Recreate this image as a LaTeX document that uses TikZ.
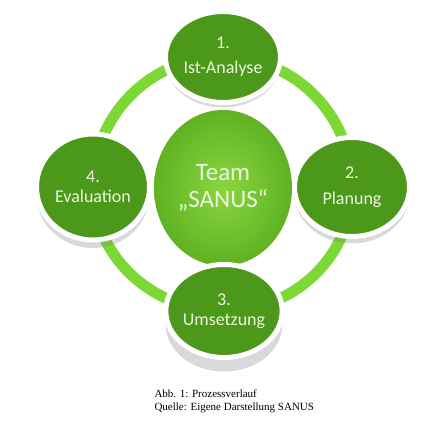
\documentclass[tikz,border=0pt]{standalone}
\usepackage{fontspec}
\setmainfont{Liberation Serif}
\newfontfamily\smartfont{Carlito}
\usetikzlibrary{shapes.geometric, shadows, backgrounds}
\definecolor{stagegreen}{RGB}{76,152,26}
\definecolor{ringgreen}{RGB}{124,216,52}
\definecolor{teamlight}{RGB}{138,214,66}
\definecolor{teamdark}{RGB}{96,178,34}
\definecolor{labelwhite}{RGB}{236,246,222}
\tikzset{
    stage/.style={ellipse, fill=stagegreen, draw=white, line width=5pt, text=labelwhite, align=center, inner sep=0pt,
        drop shadow={opacity=0.3, shadow xshift=0pt, shadow yshift=-#1}},
    ring/.style={ringgreen, line width=11pt},
}

\begin{document}
\begin{tikzpicture}[x=1pt,y=1pt]
                \useasboundingbox (0,0) rectangle (447,430);
                \node[ellipse, minimum width=138pt, minimum height=156pt, inner color=teamlight, outer color=teamdark, text=labelwhite,
                    font=\smartfont\fontsize{25}{27}\selectfont, align=center] (team) at (223,242) {Team\\„SANUS“};
                \node[stage=5pt, minimum width=115pt, minimum height=91pt, font=\smartfont\fontsize{18}{25}\selectfont] (ana) at (223,373) {1.\\Ist-Analyse};
                \node[stage=7pt, minimum width=115pt, minimum height=99pt, font=\smartfont\fontsize{18}{26}\selectfont] (plan) at (352,243) {2.\\Planung};
                \node[stage=14pt, minimum width=113pt, minimum height=93pt, font=\smartfont\fontsize{18}{20}\selectfont] (ums) at (224,119) {3.\\Umsetzung};
                \node[stage=8pt, minimum width=113pt, minimum height=106pt, font=\smartfont\fontsize{18}{20}\selectfont] (eval) at (93,243) {4.\\Evaluation};
                \begin{scope}[on background layer]
                    \draw[ring] (ana.center) to[out=0,in=90] (plan.center) to[out=-90,in=0] (ums.center)
                        to[out=180,in=-90] (eval.center) to[out=90,in=180] (ana.center);
                \end{scope}
                \node[anchor=base west, font=\fontsize{11}{13}\selectfont] (captitle) at (151,32) {Abb. 1: Prozessverlauf};
                \node[anchor=base west, font=\fontsize{11}{13}\selectfont] (capsource) at (151,19) {Quelle: Eigene Darstellung SANUS};
            \end{tikzpicture}
\end{document}
